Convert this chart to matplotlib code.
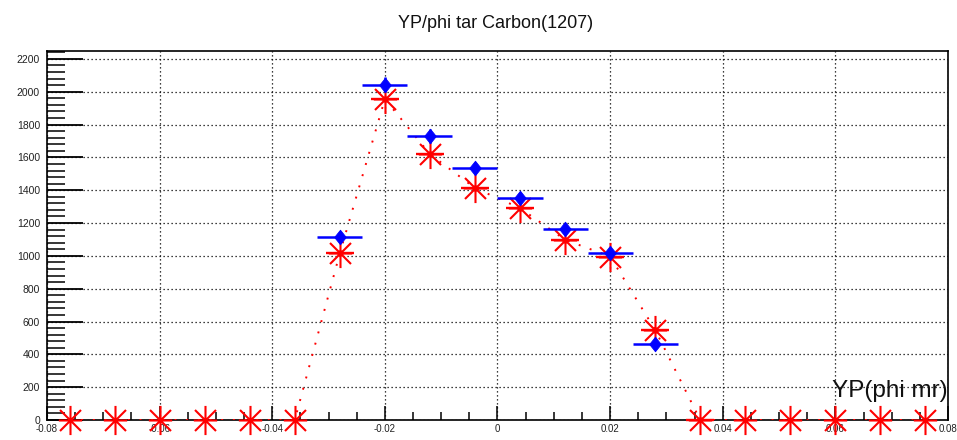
import numpy as np
import matplotlib
matplotlib.use("Agg")
import matplotlib.pyplot as plt
from matplotlib.path import Path
from matplotlib.ticker import MultipleLocator, AutoMinorLocator, FuncFormatter

plt.rcParams['font.family'] = ['Liberation Sans', 'DejaVu Sans']

# bin centres (YP, phi mr)
bins = [-0.076, -0.068, -0.060, -0.052, -0.044, -0.036, -0.028, -0.020, -0.012, -0.004,
        0.004, 0.012, 0.020, 0.028, 0.036, 0.044, 0.052, 0.060, 0.068, 0.076]

# red histogram (asterisks, dotted curve)
red_counts = [0, 0, 0, 0, 0, 0, 1016, 1955, 1620, 1413,
              1291, 1098, 996, 549, 0, 0, 0, 0, 0, 0]

# blue points (diamonds with bin-width error bars)
blue_x = [-0.028, -0.020, -0.012, -0.004, 0.004, 0.012, 0.020, 0.028]
blue_y = [1117, 2042, 1731, 1535, 1352, 1165, 1016, 462]
blue_err = [33, 45, 42, 39, 37, 34, 32, 22]

# ROOT-style asterisk marker
c = 0.72
star = Path([(0, -1), (0, 1), (-0.8, 0), (0.8, 0), (-c, -c), (c, c), (-c, c), (c, -c)],
            [Path.MOVETO, Path.LINETO] * 4)
# fat diamond marker
diamond = Path([(0, 1), (0.8, 0), (0, -1), (-0.8, 0), (0, 1)],
               [Path.MOVETO, Path.LINETO, Path.LINETO, Path.LINETO, Path.CLOSEPOLY])

fig = plt.figure(figsize=(9.57, 4.40), dpi=100)
ax = fig.add_axes([0.0491, 0.0455, 0.9415, 0.8393])

ax.set_xlim(-0.08, 0.08)
ax.set_ylim(0, 2250)

# grid
ax.grid(True, which='major', color='black', linestyle=(0, (1, 2.2)), linewidth=0.9)
ax.set_axisbelow(True)

# red series
ax.plot(bins, red_counts, color='red', linestyle=(0, (1, 5)), linewidth=1.4, zorder=3)
red_x_nz = bins[6:15]
red_y_nz = red_counts[6:15]
ax.errorbar(red_x_nz, red_y_nz, xerr=0.0025, fmt='none', ecolor='red',
            elinewidth=1.7, zorder=4, clip_on=False)
ax.plot(bins, red_counts, linestyle='none', marker=star, markersize=21,
        markerfacecolor='none', markeredgecolor='red', markeredgewidth=1.5,
        zorder=5, clip_on=False)
ax.plot(red_x_nz, red_y_nz, linestyle='none', marker='o', markersize=3.5,
        color='red', zorder=5)

# blue series
ax.errorbar(blue_x, blue_y, xerr=0.004, yerr=blue_err, fmt='none', ecolor='blue',
            elinewidth=1.8, capsize=0, zorder=6)
ax.plot(blue_x, blue_y, linestyle='none', marker=diamond, markersize=10.5,
        color='blue', markeredgewidth=0.6, zorder=7)

# axes styling
for s in ax.spines.values():
    s.set_linewidth(1.2)
    s.set_color('black')

ax.xaxis.set_major_locator(MultipleLocator(0.02))
ax.xaxis.set_minor_locator(AutoMinorLocator(4))
ax.yaxis.set_major_locator(MultipleLocator(200))
ax.yaxis.set_minor_locator(AutoMinorLocator(5))
ax.xaxis.set_major_formatter(FuncFormatter(lambda v, p: '0' if abs(v) < 1e-9 else f'{v:.2f}'))

ax.tick_params(axis='y', which='major', direction='in', length=26, width=1.3,
               labelsize=7.5, pad=5, labelcolor='#222222')
ax.tick_params(axis='y', which='minor', direction='in', length=13, width=1.1)
ax.tick_params(axis='x', which='major', direction='in', length=10, width=1.1,
               labelsize=7, pad=3, labelcolor='#222222')
ax.tick_params(axis='x', which='minor', direction='in', length=6, width=1.1)
ax.tick_params(top=False, right=False)

ax.text(1.0, 0.062, 'YP(phi mr)', transform=ax.transAxes, ha='right', va='baseline',
        fontsize=17.5, color='#111111', zorder=8)
fig.text(0.518, 0.936, 'YP/phi tar Carbon(1207)', ha='center', va='baseline',
         fontsize=13, color='#111111')

fig.savefig('out.png', dpi=100)
